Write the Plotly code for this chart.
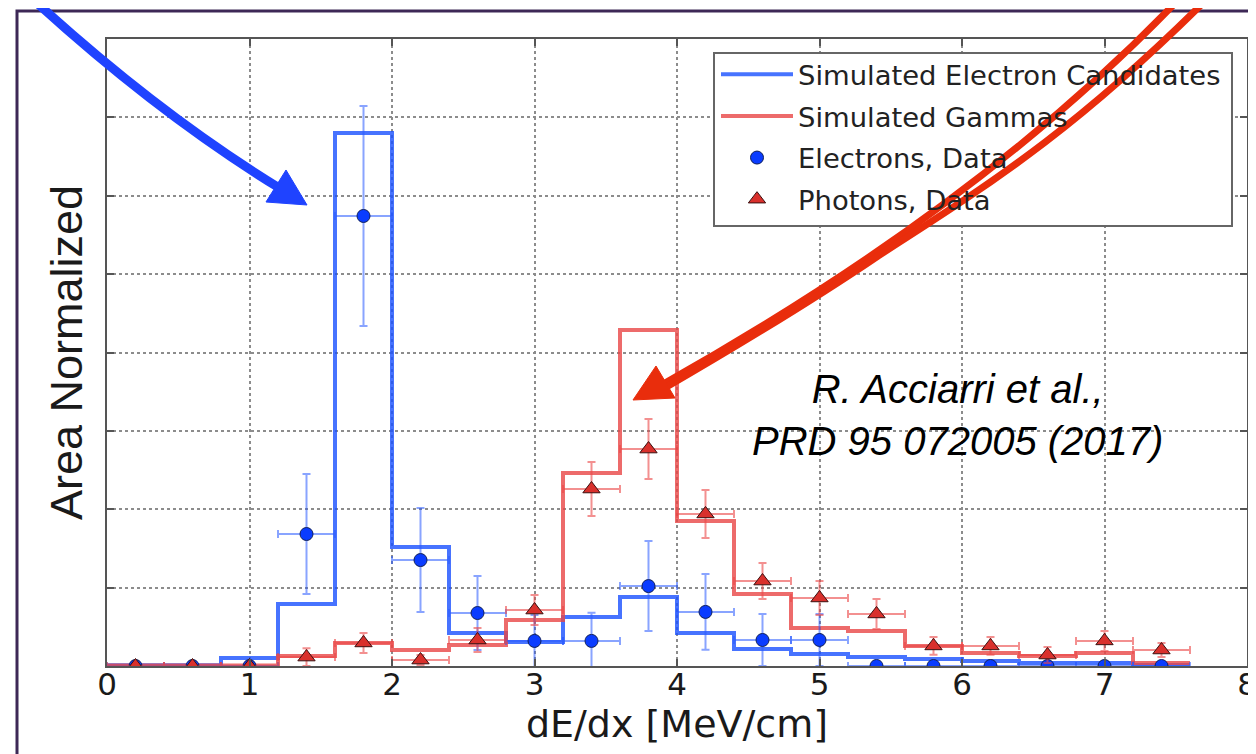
import plotly.graph_objects as go

# ---------------- data ----------------
bin_edges = [0.0, 0.4, 0.8, 1.2, 1.6, 2.0, 2.4, 2.8, 3.2, 3.6, 4.0,
             4.4, 4.8, 5.2, 5.6, 6.0, 6.4, 6.8, 7.2, 7.6]
bin_centers = [0.2, 0.6, 1.0, 1.4, 1.8, 2.2, 2.6, 3.0, 3.4, 3.8,
               4.2, 4.6, 5.0, 5.4, 5.8, 6.2, 6.6, 7.0, 7.4]

sim_electron = [0.0005, 0.0005, 0.0051, 0.0396, 0.3400, 0.0759, 0.0211, 0.0153,
                0.0313, 0.0440, 0.0211, 0.0108, 0.0077, 0.0057, 0.0045, 0.0032,
                0.0019, 0.0019, 0.0006]
sim_gamma = [0.0003, 0.0003, 0.0003, 0.0064, 0.0147, 0.0102, 0.0134, 0.0293,
             0.1231, 0.2144, 0.0925, 0.0459, 0.0242, 0.0223, 0.0128, 0.0083,
             0.0064, 0.0083, 0.0019]

electron_data = [0.0, 0.0, 0.0, 0.0842, 0.2871, 0.0676, 0.0338, 0.0160, 0.0160,
                 0.0510, 0.0345, 0.0166, 0.0166, 0.0, 0.0, 0.0, 0.0, 0.0, 0.0]
electron_err = [0.0, 0.0, 0.0, 0.0383, 0.0702, 0.0332, 0.0236, 0.0166, 0.0179,
                0.0287, 0.0242, 0.0166, 0.0166, 0.0, 0.0, 0.0, 0.0, 0.0, 0.0]

photon_data = [0.0, 0.0, 0.0, 0.0057, 0.0147, 0.0038, 0.0166, 0.0357, 0.1129,
               0.1384, 0.0970, 0.0542, 0.0434, 0.0332, 0.0128, 0.0128, 0.0070,
               0.0160, 0.0102]
photon_err = [0.0, 0.0, 0.0, 0.0057, 0.0064, 0.0032, 0.0077, 0.0096, 0.0172,
              0.0191, 0.0153, 0.0115, 0.0108, 0.0096, 0.0057, 0.0057, 0.0051,
              0.0064, 0.0045]
half_bin = 0.2

x_ticks = [0, 1, 2, 3, 4, 5, 6, 7, 8]

# ---------------- figure ----------------
fig = go.Figure()

fig.add_trace(go.Scatter(
    x=bin_edges, y=sim_electron + [sim_electron[-1]], mode="lines",
    line=dict(shape="hv", color="rgba(25,80,255,0.8)", width=4),
    name="Simulated Electron Candidates", legendgroup="g1"))
fig.add_trace(go.Scatter(
    x=bin_edges, y=sim_gamma + [sim_gamma[-1]], mode="lines",
    line=dict(shape="hv", color="rgba(232,70,70,0.8)", width=4),
    name="Simulated Gammas", legendgroup="g2"))
fig.add_trace(go.Scatter(
    x=bin_centers, y=electron_data, mode="markers",
    marker=dict(symbol="circle", size=13, color="#0a3cff",
                line=dict(color="#10205a", width=1)),
    error_x=dict(type="constant", value=half_bin, color="rgba(40,90,255,0.55)",
                 thickness=2, width=4),
    error_y=dict(type="data", array=electron_err, color="rgba(40,90,255,0.55)",
                 thickness=2, width=4),
    name="Electrons, Data", legendgroup="g3"))
fig.add_trace(go.Scatter(
    x=bin_centers, y=photon_data, mode="markers",
    marker=dict(symbol="triangle-up", size=15, color="#d9302c",
                line=dict(color="#3a1010", width=1)),
    error_x=dict(type="constant", value=half_bin, color="rgba(235,70,70,0.6)",
                 thickness=2, width=4),
    error_y=dict(type="data", array=photon_err, color="rgba(235,70,70,0.6)",
                 thickness=2, width=4),
    name="Photons, Data", legendgroup="g4"))

# The page body adds an 8px margin, so the figure is made 8px smaller and all
# layout pixel positions below are in screenshot (page) coordinates.
OFF = 8
W, H = 1256 - OFF, 754 - OFF
L, R, T, B = 107, 1247, 39, 666          # plot area in page pixels

def px(x):
    return (x - L) / (R - L)
def py(y):
    return (B - y) / (B - T)
def pt(x, y):
    return f"{px(x):.5f},{py(y):.5f}"

shapes = []
# outer frame of the slide
shapes.append(dict(type="rect", xref="paper", yref="paper",
                   x0=px(17), y0=py(11), x1=px(1300), y1=py(800),
                   line=dict(color="#3d2856", width=3), layer="above"))
# legend box
shapes.append(dict(type="rect", xref="paper", yref="paper",
                   x0=px(714), y0=py(226), x1=px(1232), y1=py(53),
                   fillcolor="white", line=dict(color="#666666", width=2),
                   layer="above"))
# blue arrow
blue = "#1f43ff"
shapes.append(dict(type="path", xref="paper", yref="paper",
                   path=f"M {pt(25,-8)} Q {pt(155,112)} {pt(281,189)}",
                   line=dict(color=blue, width=9), layer="above"))
shapes.append(dict(type="path", xref="paper", yref="paper",
                   path=f"M {pt(307,205)} L {pt(266,202)} L {pt(286,170)} Z",
                   fillcolor=blue, line=dict(color=blue, width=1), layer="above"))
# red double arrow
red = "#e92d0c"
shapes.append(dict(type="path", xref="paper", yref="paper",
                   path=f"M {pt(1195,-18)} Q {pt(995,197.5)} {pt(665,383)}",
                   line=dict(color=red, width=7), layer="above"))
shapes.append(dict(type="path", xref="paper", yref="paper",
                   path=(f"M {pt(1224,-18)} C {pt(1086,122)} {pt(1000,178)} {pt(878,256)}"
                         f" Q {pt(794,313)} {pt(663,389)}"),
                   line=dict(color=red, width=7), layer="above"))
shapes.append(dict(type="path", xref="paper", yref="paper",
                   path=f"M {pt(633,400)} L {pt(656,366)} L {pt(675,398)} Z",
                   fillcolor=red, line=dict(color=red, width=1), layer="above"))

axis_common = dict(showgrid=True, gridcolor="#8c8c8c", griddash="dot", gridwidth=1.5,
                   showline=True, linecolor="#555555", linewidth=2, mirror="ticks",
                   ticks="inside", ticklen=7, tickcolor="#555555", tickwidth=1.5,
                   zeroline=False, automargin=False)

fig.update_layout(
    width=W, height=H,
    margin=dict(l=L - OFF, r=W - (R - OFF), t=T - OFF, b=H - (B - OFF), autoexpand=False),
    paper_bgcolor="white", plot_bgcolor="white",
    showlegend=True,
    legend=dict(x=px(716), y=py(50), xanchor="left", yanchor="top",
                bgcolor="rgba(0,0,0,0)", borderwidth=0,
                font=dict(family="DejaVu Sans", size=27.4, color="#222222"),
                itemwidth=72, tracegroupgap=3, traceorder="grouped"),
    xaxis=dict(range=[0, 8], tickvals=x_ticks, ticktext=[str(v) for v in x_ticks],
               tickfont=dict(family="DejaVu Sans", size=31, color="#1a1a1a"),
               ticklabelstandoff=-10, ticklabeloverflow="allow",
               title=dict(text="dE/dx [MeV/cm]", standoff=2,
                          font=dict(family="DejaVu Sans", size=38, color="#1a1a1a")),
               **axis_common),
    yaxis=dict(range=[0, 0.4], dtick=0.05, showticklabels=False,
               title=dict(text="Area Normalized", standoff=8,
                          font=dict(family="Liberation Sans", size=45, color="#1a1a1a")),
               **axis_common),
    shapes=shapes,
    annotations=[dict(xref="paper", yref="paper", x=px(957), y=py(415),
                      xanchor="center", yanchor="middle", showarrow=False,
                      align="center",
                      text="<i>R. Acciarri et al.,</i><br><i>PRD 95 072005 (2017)</i>",
                      font=dict(family="Liberation Sans", size=40, color="black"))],
)

fig.write_html("out.html")
